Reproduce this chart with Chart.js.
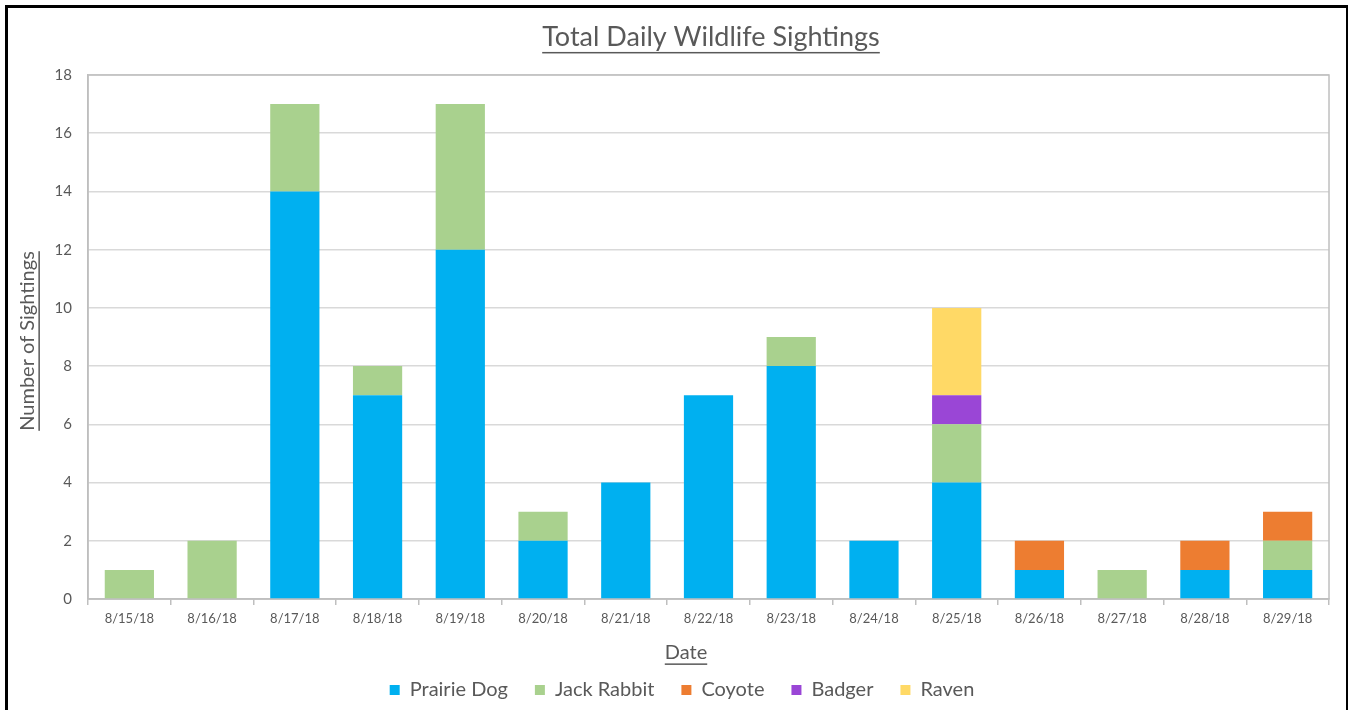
<!DOCTYPE html>
<html>
<head>
<meta charset="utf-8">
<script src="https://cdn.jsdelivr.net/npm/chart.js@4.4.1/dist/chart.umd.min.js"></script>
<style>
  html, body { margin: 0; padding: 0; background: #fff; overflow: hidden; }
  #wrap { position: absolute; left: 0; top: 0; width: 1348px; height: 710px; }
  #frame { position: absolute; left: 5px; top: 5px; width: 1338px; height: 720px; border: 3px solid #000; border-bottom: none; pointer-events: none; }
</style>
</head>
<body>
<div id="wrap"><canvas id="c" width="1348" height="710"></canvas></div>
<div id="frame"></div>
<script>
const chartTitle = 'Total Daily Wildlife Sightings';
const xTitle = 'Date';
const yTitle = 'Number of Sightings';
const dates = ['8/15/18','8/16/18','8/17/18','8/18/18','8/19/18','8/20/18','8/21/18','8/22/18','8/23/18','8/24/18','8/25/18','8/26/18','8/27/18','8/28/18','8/29/18'];
const prairieDog = [0,0,14,7,12,2,4,7,8,2,4,1,0,1,1];
const jackRabbit = [1,2,3,1,5,1,0,0,1,0,2,0,1,0,1];
const coyote     = [0,0,0,0,0,0,0,0,0,0,0,1,0,1,1];
const badger     = [0,0,0,0,0,0,0,0,0,0,1,0,0,0,0];
const raven      = [0,0,0,0,0,0,0,0,0,0,3,0,0,0,0];
const yTicks = [0,2,4,6,8,10,12,14,16,18];

const FONT = 'Lato, "Open Sans", sans-serif';
const TXT = '#595959';

function uText(ctx, text, x, y, size, rot) {
  ctx.save();
  ctx.translate(x, y);
  if (rot) ctx.rotate(rot);
  ctx.font = size + 'px ' + FONT;
  ctx.fillStyle = TXT;
  ctx.textAlign = 'center';
  ctx.textBaseline = 'alphabetic';
  ctx.fillText(text, 0, 0);
  const w = ctx.measureText(text).width;
  ctx.fillRect(-w / 2, size * 0.22, w, 1.5);
  ctx.restore();
}

const decor = {
  id: 'decor',
  beforeDatasetsDraw(chart) {
    const { ctx, chartArea: a } = chart;
    ctx.save();
    ctx.strokeStyle = '#BFBFBF';
    ctx.lineWidth = 1.5;
    ctx.strokeRect(a.left, a.top, a.right - a.left, a.bottom - a.top);
    ctx.restore();
  },
  afterDraw(chart) {
    const { ctx, chartArea: a } = chart;
    uText(ctx, chartTitle, 711, 46, 27, 0);
    uText(ctx, xTitle, 686, 659, 20, 0);
    uText(ctx, yTitle, 34, (a.top + a.bottom) / 2 + 4, 20, -Math.PI / 2);
  }
};

const mk = (label, data, color) => ({ label, data, backgroundColor: color, borderWidth: 0, barPercentage: 0.595, categoryPercentage: 1 });

new Chart(document.getElementById('c'), {
  type: 'bar',
  data: {
    labels: dates,
    datasets: [
      mk('Prairie Dog', prairieDog, '#00B0F0'),
      mk('Jack Rabbit', jackRabbit, '#A9D18E'),
      mk('Coyote', coyote, '#ED7D31'),
      mk('Badger', badger, '#9A46D6'),
      mk('Raven', raven, '#FFD966')
    ]
  },
  options: {
    responsive: false,
    animation: false,
    layout: { padding: { left: 35, right: 19, top: 75, bottom: 0 } },
    plugins: {
      title: { display: false },
      tooltip: { enabled: false },
      legend: {
        display: true,
        position: 'bottom',
        labels: { boxWidth: 10, boxHeight: 10, padding: 27, color: TXT, font: { family: FONT, size: 20 } }
      }
    },
    scales: {
      x: {
        stacked: true,
        afterFit(s) { s.height = 54; },
        grid: { display: true, offset: true, drawOnChartArea: false, drawTicks: true, tickLength: 6, color: '#BFBFBF', lineWidth: 1.5 },
        border: { display: true, color: '#BFBFBF', width: 1.5 },
        ticks: { color: TXT, font: { family: FONT, size: 13 }, padding: 6, maxRotation: 0, autoSkip: false }
      },
      y: {
        stacked: true,
        min: 0, max: 18,
        afterFit(s) { s.width = 88 - 35; },
        afterBuildTicks(s) { s.ticks = yTicks.map(v => ({ value: v })); },
        grid: { color: '#D9D9D9', lineWidth: 1.5, drawTicks: false },
        border: { display: true, color: '#BFBFBF', width: 1.5 },
        ticks: { color: TXT, font: { family: FONT, size: 15 }, padding: 16 }
      }
    }
  },
  plugins: [decor]
});
</script>
</body>
</html>
